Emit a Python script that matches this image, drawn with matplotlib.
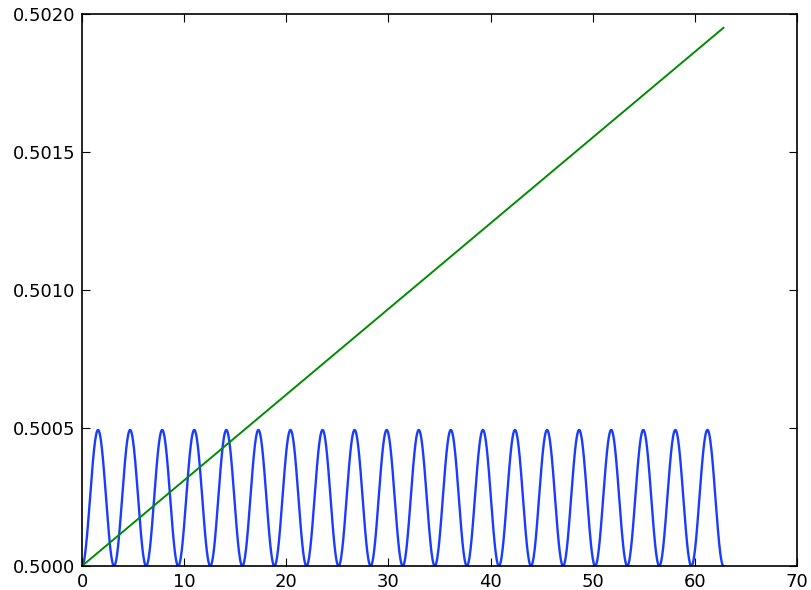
import numpy as np
import matplotlib
matplotlib.use("Agg")
import matplotlib.pyplot as plt
from matplotlib.ticker import FormatStrFormatter

# values
x_end = 62.8           # both curves stop here (~20*pi)
wave_base = 0.5
wave_peak = 0.000493   # height of each blue bump above the base
wave_period = 3.14     # 20 bumps over the x range
line_x = [0.0, 62.8]
line_y = [0.5, 0.50195]

x = np.linspace(0, x_end, 2000)
wave_y = wave_base + wave_peak * np.sin(np.pi * x / wave_period) ** 2

fig = plt.figure(figsize=(8.11, 5.90), dpi=100)
ax = fig.add_axes([82 / 811, 24 / 590, 715 / 811, 552 / 590])
ax.plot(x, wave_y, color='#1a3cff', lw=1.7)
ax.plot(line_x, line_y, color='#008c00', lw=1.4)

ax.set_xlim(0, 70)
ax.set_ylim(0.5, 0.502)
ax.set_xticks([0, 10, 20, 30, 40, 50, 60, 70])
ax.set_yticks([0.5, 0.5005, 0.501, 0.5015, 0.502])
ax.yaxis.set_major_formatter(FormatStrFormatter('%.4f'))
ax.tick_params(direction='in', top=True, right=True, length=6, labelsize=13, pad=5)
for s in ax.spines.values():
    s.set_linewidth(1.2)

fig.savefig('out.png', dpi=100, facecolor='white')
